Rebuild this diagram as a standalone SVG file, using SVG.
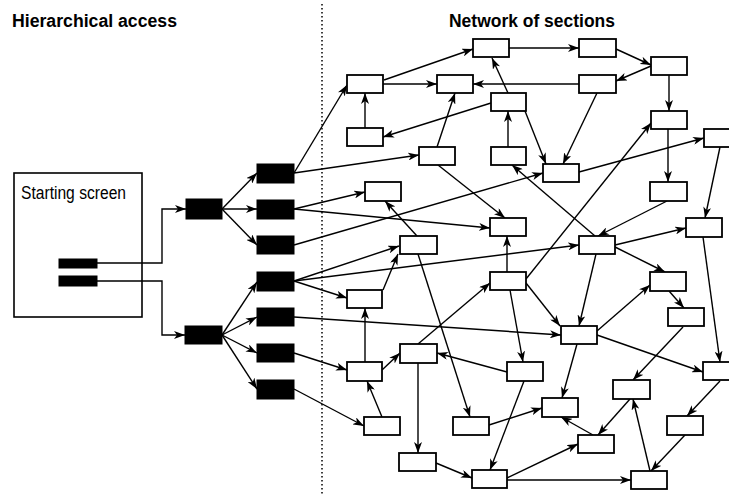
<svg xmlns="http://www.w3.org/2000/svg" width="729" height="495" viewBox="0 0 729 495">
<style>
.t{font-family:"Liberation Sans",Arial,sans-serif;fill:#000}
.h{font-weight:bold;font-size:18px}
.n{fill:#fff;stroke:#000;stroke-width:1.8}
.b{fill:#000;stroke:#000;stroke-width:1}
.e{fill:none;stroke:#000;stroke-width:1.4;marker-end:url(#ar)}
</style>
<defs>
<marker id="ar" viewBox="0 0 11 8" refX="11" refY="4" markerWidth="11" markerHeight="8" markerUnits="userSpaceOnUse" orient="auto">
<path d="M0,0 L11,4 L0,8 L3,4 z" fill="#000"/>
</marker>
</defs>
<rect width="729" height="495" fill="#fff"/>
<text class="t h" x="12" y="27" textLength="165" lengthAdjust="spacingAndGlyphs">Hierarchical access</text>
<text class="t h" x="449" y="27" textLength="166" lengthAdjust="spacingAndGlyphs">Network of sections</text>
<line x1="322" y1="4" x2="322" y2="495" stroke="#000" stroke-width="1.5" stroke-dasharray="1.5,2.5"/>
<g id="starting-screen">
<rect x="14" y="173" width="128" height="144" fill="#fff" stroke="#000" stroke-width="1.6"/>
<text class="t" x="21" y="199" font-size="17.5" textLength="105" lengthAdjust="spacingAndGlyphs">Starting screen</text>
<rect class="b" x="59" y="259" width="38" height="9"/>
<rect class="b" x="59" y="276" width="38" height="10"/>
</g>
<g id="connectors">
<path class="e" d="M97,263 H162 V209 H186"/>
<path class="e" d="M97,281 H162 V335 H185"/>
<path class="e" d="M222,209 L257,173"/>
<path class="e" d="M222,209 L257,209"/>
<path class="e" d="M222,209 L257,245"/>
<path class="e" d="M222,335 L257,282"/>
<path class="e" d="M222,335 L257,317"/>
<path class="e" d="M222,335 L257,353"/>
<path class="e" d="M222,335 L257,389"/>
<path class="e" d="M294,173 L347,85"/>
<path class="e" d="M294,173 L419,155"/>
<path class="e" d="M294,209 L365,192"/>
<path class="e" d="M294,209 L490,228"/>
<path class="e" d="M294,245 L543,173"/>
<path class="e" d="M294,281 L399,246"/>
<path class="e" d="M294,281 L579,245"/>
<path class="e" d="M294,281 L347,298"/>
<path class="e" d="M294,317 L561,335"/>
<path class="e" d="M294,353 L347,370"/>
<path class="e" d="M294,389 L364,426"/>
<path class="e" d="M383,84 L437,84"/>
<path class="e" d="M384,80 L473,49"/>
<path class="e" d="M365,128 L365,93"/>
<path class="e" d="M491,103 L383,137"/>
<path class="e" d="M437,147 L455,93"/>
<path class="e" d="M508,147 L508,111"/>
<path class="e" d="M508,93 L492,58"/>
<path class="e" d="M579,84 L473,84"/>
<path class="e" d="M509,48 L579,48"/>
<path class="e" d="M616,49 L651,65"/>
<path class="e" d="M651,66 L616,81"/>
<path class="e" d="M669,75 L669,111"/>
<path class="e" d="M597,93 L563,164"/>
<path class="e" d="M525,111 L546,164"/>
<path class="e" d="M526,279 L651,123"/>
<path class="e" d="M579,172 L704,138"/>
<path class="e" d="M668,129 L668,182"/>
<path class="e" d="M720,147 L705,218"/>
<path class="e" d="M667,201 L598,236"/>
<path class="e" d="M615,245 L686,228"/>
<path class="e" d="M615,247 L665,272"/>
<path class="e" d="M669,291 L684,308"/>
<path class="e" d="M596,254 L579,326"/>
<path class="e" d="M597,331 L650,285"/>
<path class="e" d="M703,237 L720,362"/>
<path class="e" d="M526,283 L560,326"/>
<path class="e" d="M418,344 L490,283"/>
<path class="e" d="M507,272 L507,236"/>
<path class="e" d="M510,290 L523,362"/>
<path class="e" d="M417,236 L385,201"/>
<path class="e" d="M418,254 L470,417"/>
<path class="e" d="M383,290 L398,254"/>
<path class="e" d="M595,236 L512,165"/>
<path class="e" d="M438,165 L505,218"/>
<path class="e" d="M382,370 L400,353"/>
<path class="e" d="M365,362 L365,308"/>
<path class="e" d="M382,417 L367,381"/>
<path class="e" d="M418,363 L418,453"/>
<path class="e" d="M436,463 L472,478"/>
<path class="e" d="M507,372 L437,353"/>
<path class="e" d="M524,381 L490,470"/>
<path class="e" d="M489,425 L542,408"/>
<path class="e" d="M507,478 L578,444"/>
<path class="e" d="M507,480 L631,480"/>
<path class="e" d="M577,344 L562,398"/>
<path class="e" d="M597,335 L703,372"/>
<path class="e" d="M683,327 L633,380"/>
<path class="e" d="M720,381 L687,416"/>
<path class="e" d="M630,399 L598,435"/>
<path class="e" d="M593,435 L561,417"/>
<path class="e" d="M650,471 L633,399"/>
<path class="e" d="M685,435 L651,471"/>
</g>
<g id="h1a"><rect class="b" x="186" y="199" width="36" height="20"/></g>
<g id="h1b"><rect class="b" x="185" y="326" width="37" height="18"/></g>
<g id="h2-1"><rect class="b" x="257" y="164" width="37" height="19"/></g>
<g id="h2-2"><rect class="b" x="257" y="200" width="37" height="19"/></g>
<g id="h2-3"><rect class="b" x="257" y="236" width="37" height="18"/></g>
<g id="h2-4"><rect class="b" x="257" y="272" width="37" height="19"/></g>
<g id="h2-5"><rect class="b" x="257" y="308" width="37" height="18"/></g>
<g id="h2-6"><rect class="b" x="257" y="344" width="37" height="18"/></g>
<g id="h2-7"><rect class="b" x="257" y="380" width="37" height="19"/></g>
<g id="sA"><rect class="n" x="473" y="39" width="36" height="18"/></g>
<g id="sB"><rect class="n" x="347" y="75" width="36" height="18"/></g>
<g id="sC"><rect class="n" x="437" y="75" width="36" height="18"/></g>
<g id="sD"><rect class="n" x="491" y="93" width="35" height="18"/></g>
<g id="sE"><rect class="n" x="347" y="128" width="36" height="18"/></g>
<g id="sF"><rect class="n" x="419" y="147" width="36" height="18"/></g>
<g id="sG"><rect class="n" x="491" y="147" width="35" height="18"/></g>
<g id="sH"><rect class="n" x="579" y="39" width="37" height="18"/></g>
<g id="sI"><rect class="n" x="651" y="57" width="36" height="18"/></g>
<g id="sJ"><rect class="n" x="579" y="75" width="37" height="18"/></g>
<g id="sK"><rect class="n" x="651" y="111" width="36" height="18"/></g>
<g id="sL"><rect class="n" x="704" y="129" width="36" height="18"/></g>
<g id="sM"><rect class="n" x="543" y="164" width="36" height="18"/></g>
<g id="sN"><rect class="n" x="365" y="182" width="36" height="19"/></g>
<g id="sO"><rect class="n" x="490" y="218" width="36" height="18"/></g>
<g id="sP"><rect class="n" x="400" y="236" width="37" height="18"/></g>
<g id="sQ"><rect class="n" x="490" y="272" width="36" height="18"/></g>
<g id="sR"><rect class="n" x="347" y="290" width="35" height="18"/></g>
<g id="sS"><rect class="n" x="650" y="182" width="37" height="19"/></g>
<g id="sT"><rect class="n" x="686" y="218" width="36" height="19"/></g>
<g id="sU"><rect class="n" x="579" y="236" width="36" height="18"/></g>
<g id="sV"><rect class="n" x="650" y="272" width="36" height="19"/></g>
<g id="sW"><rect class="n" x="668" y="308" width="36" height="18"/></g>
<g id="sX"><rect class="n" x="561" y="326" width="36" height="18"/></g>
<g id="sY"><rect class="n" x="400" y="344" width="37" height="19"/></g>
<g id="sZ"><rect class="n" x="347" y="362" width="35" height="19"/></g>
<g id="sAA"><rect class="n" x="507" y="362" width="36" height="19"/></g>
<g id="sAB"><rect class="n" x="364" y="417" width="36" height="18"/></g>
<g id="sAC"><rect class="n" x="453" y="417" width="36" height="18"/></g>
<g id="sAD"><rect class="n" x="399" y="453" width="37" height="18"/></g>
<g id="sAE"><rect class="n" x="472" y="470" width="35" height="18"/></g>
<g id="sAG"><rect class="n" x="703" y="362" width="36" height="18"/></g>
<g id="sAH"><rect class="n" x="613" y="380" width="37" height="19"/></g>
<g id="sAI"><rect class="n" x="542" y="398" width="36" height="19"/></g>
<g id="sAJ"><rect class="n" x="667" y="416" width="36" height="19"/></g>
<g id="sAK"><rect class="n" x="578" y="435" width="36" height="18"/></g>
<g id="sAL"><rect class="n" x="631" y="471" width="36" height="18"/></g>
</svg>
